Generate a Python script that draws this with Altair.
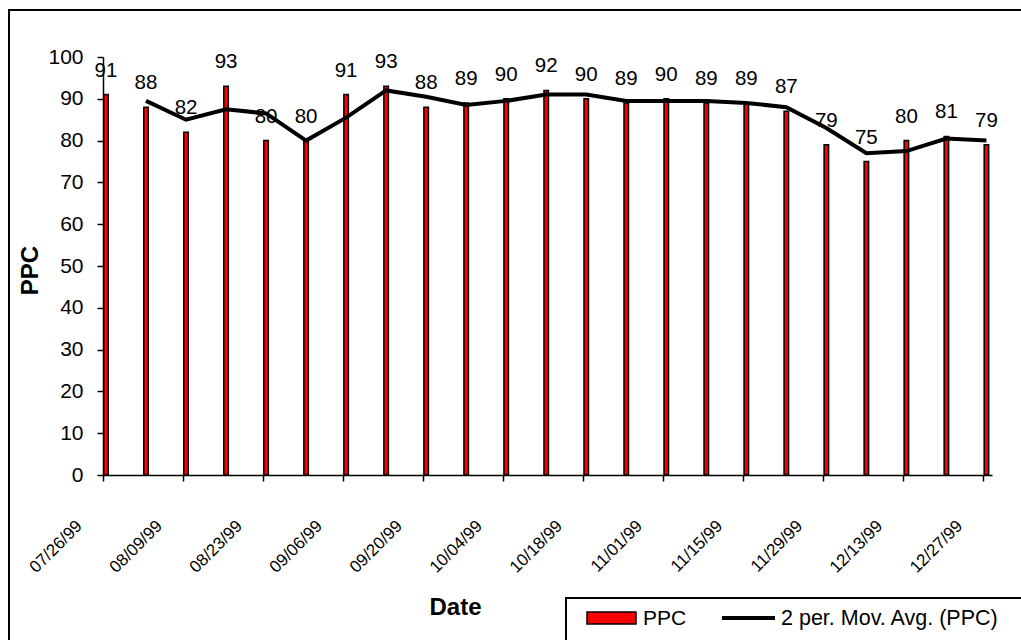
import altair as alt
import pandas as pd

# Weekly PPC readings
week_dates = [
    "1999-07-26", "1999-08-02", "1999-08-09", "1999-08-16", "1999-08-23",
    "1999-08-30", "1999-09-06", "1999-09-13", "1999-09-20", "1999-09-27",
    "1999-10-04", "1999-10-11", "1999-10-18", "1999-10-25", "1999-11-01",
    "1999-11-08", "1999-11-15", "1999-11-22", "1999-11-29", "1999-12-06",
    "1999-12-13", "1999-12-20", "1999-12-27",
]
ppc_values = [91, 88, 82, 93, 80, 80, 91, 93, 88, 89, 90, 92,
              90, 89, 90, 89, 89, 87, 79, 75, 80, 81, 79]

# Axis ticks every two weeks
tick_dates = [
    "1999-07-26", "1999-08-09", "1999-08-23", "1999-09-06", "1999-09-20",
    "1999-10-04", "1999-10-18", "1999-11-01", "1999-11-15", "1999-11-29",
    "1999-12-13", "1999-12-27",
]
y_ticks = [0, 10, 20, 30, 40, 50, 60, 70, 80, 90, 100]
legend_labels = ["PPC", "2 per. Mov. Avg. (PPC)"]

FONT = "Liberation Sans"


def utc_dt(s, hours=0):
    y, m, d = (int(p) for p in s.split("-"))
    return alt.DateTime(year=y, month=m, date=d, hours=hours, utc=True)


df = pd.DataFrame({"date": week_dates, "ppc": ppc_values})

# padding=0 keeps the bar layer from adding continuous-scale padding
x_scale = alt.Scale(type="utc", nice=False, padding=0,
                    domain=[utc_dt("1999-07-26"), utc_dt("1999-12-28", 12)])
y_scale = alt.Scale(domain=[0, 100], nice=False, padding=0)

x_axis = alt.Axis(
    values=[utc_dt(t) for t in tick_dates],
    labelExpr="utcFormat(datum.value, '%m/%d/%y')",
    labelAngle=-45, labelAlign="right", labelBaseline="middle",
    labelOffset=-24, labelPadding=42, labelFontSize=17, labelColor="black",
    tickSize=6, tickWidth=1.5, tickColor="black",
    domainColor="black", domainWidth=1.5, grid=False,
    title="Date", titleFontSize=24, titleFontWeight="bold", titleColor="black",
    titleX=352, titleY=132, titleAlign="center", titleBaseline="middle",
)
y_axis = alt.Axis(
    values=y_ticks, labelFontSize=21, labelColor="black", labelPadding=14,
    tickSize=6, tickWidth=1.5, tickColor="black",
    domainColor="black", domainWidth=1.5, grid=False,
    title="PPC", titleFontSize=24, titleFontWeight="bold", titleColor="black",
    titleX=-73, titleY=213, titleAngle=-90, titleAlign="center", titleBaseline="middle",
)

base = alt.Chart(df)

bars = base.mark_bar(size=4.5, xOffset=3, color="#ff0000", stroke="black", strokeWidth=1.5).encode(
    x=alt.X("date:T", scale=x_scale, axis=x_axis),
    y=alt.Y("ppc:Q", scale=y_scale, axis=y_axis),
)

moving_avg = base.transform_window(
    ma="mean(ppc)", rn="row_number()", frame=[-1, 0], sort=[alt.SortField("date")]
).transform_filter("datum.rn > 1").mark_line(
    color="black", strokeWidth=4, xOffset=3
).encode(
    x=alt.X("date:T", scale=x_scale),
    y=alt.Y("ma:Q", scale=y_scale),
)

value_labels = base.mark_text(
    font=FONT, fontSize=20.5, color="black", baseline="alphabetic", dy=-18, xOffset=3
).encode(
    x=alt.X("date:T", scale=x_scale),
    y=alt.Y("ppc:Q", scale=y_scale),
    text=alt.Text("ppc:Q"),
)

one_row = alt.Chart(pd.DataFrame({"k": [0]}))

# Outer chart frame
frame = one_row.mark_rect(fill="transparent", stroke="black", strokeWidth=2).encode(
    x=alt.value(-94), x2=alt.value(930), y=alt.value(-47), y2=alt.value(600)
)

# Legend: box, swatches and labels
legend_box = one_row.mark_rect(fill="white", stroke="black", strokeWidth=2).encode(
    x=alt.value(463), x2=alt.value(930), y=alt.value(541), y2=alt.value(600)
)
legend_swatch = one_row.mark_rect(color="#ff0000", stroke="black", strokeWidth=1.5).encode(
    x=alt.value(484), x2=alt.value(533), y=alt.value(555), y2=alt.value(567)
)
legend_line = one_row.mark_rule(color="black", strokeWidth=4).encode(
    x=alt.value(619), x2=alt.value(672), y=alt.value(561)
)
legend_text1 = one_row.mark_text(font=FONT, fontSize=21, align="left", baseline="middle", color="black").encode(
    x=alt.value(540), y=alt.value(562), text=alt.value(legend_labels[0])
)
legend_text2 = one_row.mark_text(font=FONT, fontSize=21.5, align="left", baseline="middle", color="black").encode(
    x=alt.value(678), y=alt.value(562), text=alt.value(legend_labels[1])
)

chart = alt.layer(
    frame, bars, moving_avg, value_labels,
    legend_box, legend_swatch, legend_line, legend_text1, legend_text2,
).properties(
    width=889, height=418,
    autosize=alt.AutoSizeParams(type="none"),
    padding={"left": 103, "top": 57, "right": 29, "bottom": 165},
    background="white",
).configure(
    font=FONT,
).configure_view(
    stroke=None,
).configure_axis(
    labelFont=FONT, titleFont=FONT,
)

chart.save("out.html", embed_options={"renderer": "svg", "actions": False})
